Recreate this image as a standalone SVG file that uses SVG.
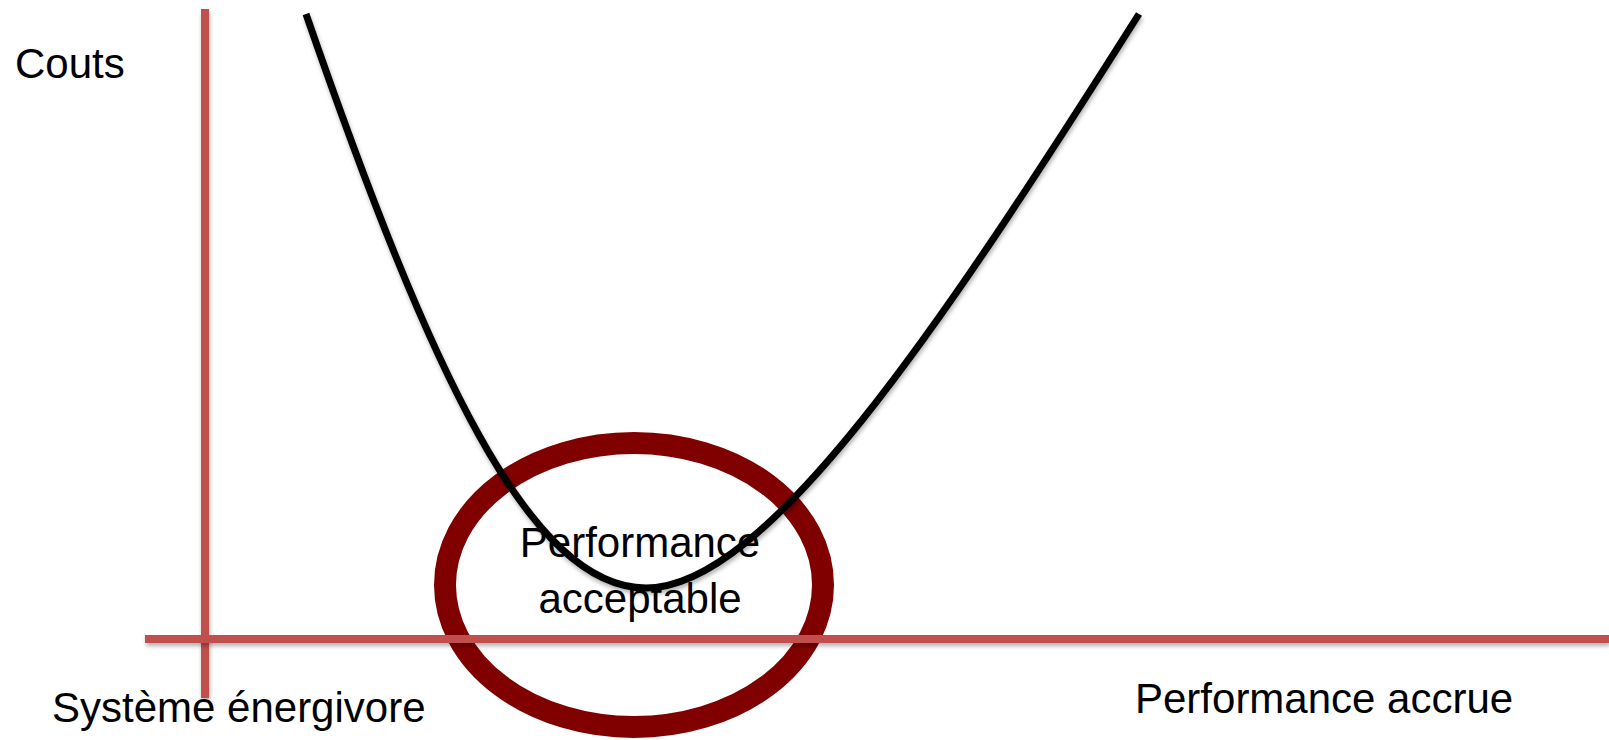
<svg xmlns="http://www.w3.org/2000/svg" width="1609" height="740" viewBox="0 0 1609 740">
<style>
.lbl{font-family:"Liberation Sans",Arial,sans-serif;font-size:42px;fill:#000}
.axis{stroke:#c0504d;stroke-width:8;fill:none}
</style>
<defs>
<filter id="sh" filterUnits="userSpaceOnUse" x="0" y="0" width="1609" height="740">
<feDropShadow dx="1" dy="3" stdDeviation="2" flood-color="#000" flood-opacity="0.3"/>
</filter>
</defs>
<rect width="1609" height="740" fill="#fff"/>
<g id="ellipse">
<ellipse cx="634" cy="585" rx="189" ry="142" fill="none" stroke="#800000" stroke-width="22"/>
</g>
<g id="label-acceptable">
<text class="lbl" x="640" y="557" text-anchor="middle">Performance</text>
<text class="lbl" x="640" y="613" text-anchor="middle">acceptable</text>
</g>
<g id="curve">
<path d="M306,14 C430,372 530,588 646,588 C766,588 939,330 1139,14" fill="none" stroke="#000" stroke-width="7" filter="url(#sh)"/>
</g>
<g id="axes">
<line class="axis" x1="205" y1="9" x2="205" y2="698" filter="url(#sh)"/>
<line class="axis" x1="145" y1="639" x2="1609" y2="639" filter="url(#sh)"/>
</g>
<g id="labels">
<text class="lbl" x="15" y="78">Couts</text>
<text class="lbl" x="52" y="722">Système énergivore</text>
<text class="lbl" x="1135" y="713">Performance accrue</text>
</g>
</svg>
